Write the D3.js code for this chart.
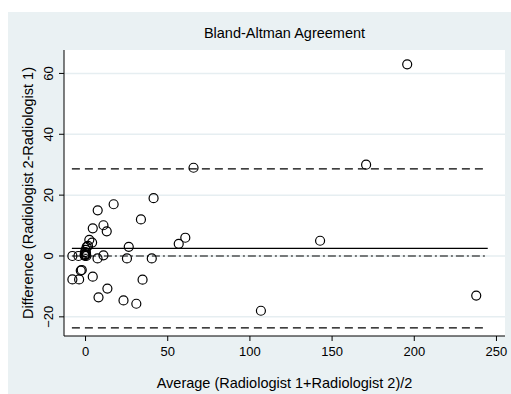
<!DOCTYPE html>
<html lang="en">
<head>
    <meta charset="UTF-8">
    <title>Bland-Altman Agreement</title>
    <style>
        body { margin: 0; background: #fff; }
        text { font-family: "Liberation Sans", Arial, sans-serif; fill: #000; }
    </style>
</head>
<script src="https://d3js.org/d3.v7.min.js"></script>
<body>
<script>
    // average of the two readings, and difference (rad 2 - rad 1)
    var avgVals = [196, 171, 66, 143, 61, 57, 107, 238,
        -7.7, -4, 0, 0, 0.3, 0.8, -7.7, -3.6, -2.6, -2, 4.7, 8.2, 13.6, 7.6, 11.2,
        23.4, 31.2, 25.5, 26.6, 35, 40.6, 34, 41.7, 17.4, 7.7, 11.2, 13.2, 4.7,
        2.6, 4.3, 1.8, 1, 0.4, -0.3, 0, 0.6];
    var diffVals = [63, 30, 29, 5, 6, 4, -18, -13,
        0, 0, 0, 0.3, 0.6, 0, -7.7, -7.7, -4.8, -4.6, -6.8, -13.6, -10.7, -0.8, 0.2,
        -14.6, -15.7, -0.8, 3, -7.8, -0.8, 12, 19, 17, 15, 10.1, 8.1, 9.1,
        5.3, 4.4, 3.3, 3, 2, 0.3, 1.3, 1];
    var meanDiff = 2.5, upperLoA = 28.6, lowerLoA = -23.6;
    var lineRange = [-8, 245];
    var xTicks = [0, 50, 100, 150, 200, 250];
    var yTicks = [-20, 0, 20, 40, 60];

    var W = 511, H = 394;
    var plot = {left: 64, right: 505, top: 50, bottom: 336};

    var svg = d3.select("body").append("svg")
        .attr("width", W).attr("height", H);

    svg.append("rect").attr("x", 8).attr("y", 12)
        .attr("width", W - 8).attr("height", H - 12)
        .attr("fill", "#eaf1f3");
    svg.append("rect").attr("x", plot.left).attr("y", plot.top)
        .attr("width", plot.right - plot.left).attr("height", plot.bottom - plot.top)
        .attr("fill", "#fff");

    var x = d3.scaleLinear().domain([-12.8, 255.5]).range([plot.left, plot.right]);
    var y = d3.scaleLinear().domain([-26.3, 67.7]).range([plot.bottom, plot.top]);

    // grid
    svg.append("g").selectAll("line").data(yTicks).enter().append("line")
        .attr("x1", plot.left).attr("x2", plot.right)
        .attr("y1", function (d) { return y(d); })
        .attr("y2", function (d) { return y(d); })
        .attr("stroke", "#e6eef1").attr("stroke-width", 1.5);

    // axes
    var gx = svg.append("g")
        .attr("transform", "translate(0," + plot.bottom + ")")
        .call(d3.axisBottom(x).tickValues(xTicks).tickSize(5).tickPadding(6));
    var gy = svg.append("g")
        .attr("transform", "translate(" + plot.left + ",0)")
        .call(d3.axisLeft(y).tickValues(yTicks).tickSize(5).tickPadding(4));
    gx.select(".domain").attr("d", "M" + plot.left + ",0H" + plot.right);
    gy.select(".domain").attr("d", "M0," + plot.top + "V" + plot.bottom);
    svg.selectAll(".tick text").attr("font-size", 13).attr("font-family", "Liberation Sans, Arial, sans-serif");
    gy.selectAll(".tick text")
        .attr("text-anchor", "middle")
        .attr("transform", function (d) { return "translate(-16," + y(d) + ") rotate(-90)"; })
        .attr("x", 0).attr("y", 0).attr("dy", "0.35em");
    gy.selectAll(".tick").attr("transform", null);
    gy.selectAll(".tick line")
        .attr("y1", function (d) { return y(d); })
        .attr("y2", function (d) { return y(d); });

    // reference lines
    function refLine(v, dash) {
        svg.append("line")
            .attr("x1", x(lineRange[0])).attr("x2", x(lineRange[1]))
            .attr("y1", y(v)).attr("y2", y(v))
            .attr("stroke", "#000").attr("stroke-width", 1.2)
            .attr("stroke-dasharray", dash);
    }
    refLine(upperLoA, "8,5");
    refLine(lowerLoA, "8,5");
    refLine(meanDiff, null);
    refLine(0, "8,3,2,3");

    // points
    svg.append("g").selectAll("circle").data(avgVals).enter().append("circle")
        .attr("cx", function (d) { return x(d); })
        .attr("cy", function (d, i) { return y(diffVals[i]); })
        .attr("r", 4.5)
        .attr("fill", "none").attr("stroke", "#000").attr("stroke-width", 1.2);

    // titles
    svg.append("text").attr("x", (plot.left + plot.right) / 2).attr("y", 38)
        .attr("text-anchor", "middle").attr("font-size", 14.5)
        .text("Bland-Altman Agreement");
    svg.append("text").attr("x", (plot.left + plot.right) / 2).attr("y", 388)
        .attr("text-anchor", "middle").attr("font-size", 14.5)
        .text("Average (Radiologist 1+Radiologist 2)/2");
    svg.append("text")
        .attr("transform", "translate(33," + ((plot.top + plot.bottom) / 2) + ") rotate(-90)")
        .attr("text-anchor", "middle").attr("font-size", 14.5)
        .text("Difference (Radiologist 2-Radiologist 1)");
</script>
</body>
</html>
